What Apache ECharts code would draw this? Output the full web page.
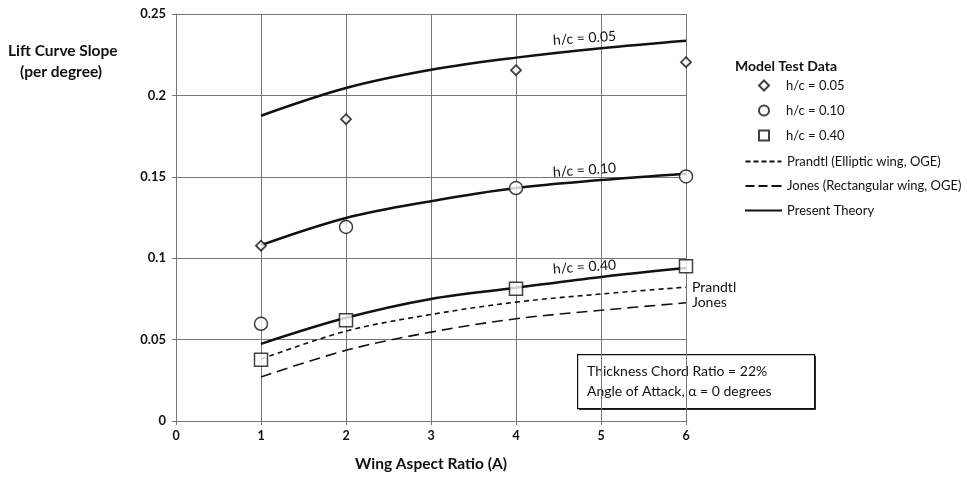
<!DOCTYPE html>
<html><head><meta charset="utf-8">
<script src="https://cdn.jsdelivr.net/npm/echarts@6/dist/echarts.min.js"></script>
<style>html,body{margin:0;padding:0;background:#fff}#c{width:967px;height:477px}</style>
</head><body><div id="c"></div>
<script>
const aspectRatios = [1, 2, 3, 4, 5, 6];
const theory005 = [0.1875, 0.2045, 0.2157, 0.2232, 0.2290, 0.2336];
const theory010 = [0.108, 0.1247, 0.1350, 0.1431, 0.1480, 0.1519];
const theory040 = [0.0474, 0.0634, 0.0750, 0.0818, 0.0885, 0.0940];
const prandtl = [0.038, 0.0552, 0.0654, 0.0730, 0.0780, 0.0822];
const jones = [0.027, 0.0434, 0.0546, 0.0628, 0.0680, 0.0726];
const testX = [1, 2, 4, 6];
const test005 = [0.1077, 0.1854, 0.2155, 0.2204];
const test010 = [0.0597, 0.1192, 0.1431, 0.1502];
const test040 = [0.0376, 0.0619, 0.0812, 0.0951];
const xTicks = [0, 1, 2, 3, 4, 5, 6];
const yTicks = [0, 0.05, 0.1, 0.15, 0.2, 0.25];

const FONT = 'Lato';
const pair = (xs, ys) => xs.map((x, i) => [x, ys[i]]);

function withCurveLabel(arr, text, idx) {
  return arr.map((p, i) => i === idx ? {
    value: p,
    label: { show: true, formatter: text, position: 'top', distance: 4, rotate: 4,
      fontFamily: FONT, fontSize: 14, color: '#111', offset: [-16, 0] }
  } : p);
}

const chart = echarts.init(document.getElementById('c'), null, { renderer: 'canvas' });
const lineStyleSolid = { color: '#111', width: 2.5 };
const theoryBase = { name: 'Present Theory', type: 'line', smooth: 0.35, symbol: 'circle', symbolSize: 0,
  showSymbol: true, lineStyle: lineStyleSolid, itemStyle: { color: '#111' }, label: { show: false }, z: 3 };
const dashIcon4 = 'path://M0,0h5v2h-5z M8,0h5v2h-5z M16,0h5v2h-5z M24,0h5v2h-5z M32,0h4v2h-4z';
const dashIcon3 = 'path://M0,0h9v2h-9z M13,0h9v2h-9z M26,0h10v2h-10z';
const option = {
  animation: false,
  backgroundColor: '#fff',
  textStyle: { fontFamily: FONT },
  grid: { left: 176, top: 14, right: 281, bottom: 55, containLabel: false },
  xAxis: {
    type: 'value', min: 0, max: 6, interval: 1,
    name: 'Wing Aspect Ratio (A)', nameLocation: 'middle', nameGap: 35,
    nameTextStyle: { fontFamily: FONT, fontWeight: 'bold', fontSize: 15.5, color: '#111' },
    axisLine: { show: true, lineStyle: { color: '#777', width: 1 } },
    axisTick: { show: true, length: 4, lineStyle: { color: '#777' } },
    axisLabel: { fontFamily: FONT, fontWeight: 'bold', fontSize: 12.5, color: '#111', margin: 8,
      formatter: v => xTicks.includes(v) ? String(v) : '' },
    splitLine: { show: true, lineStyle: { color: '#777', width: 1 } }
  },
  yAxis: {
    type: 'value', min: 0, max: 0.25, interval: 0.05,
    axisLine: { show: true, lineStyle: { color: '#777', width: 1 } },
    axisTick: { show: true, length: 4, lineStyle: { color: '#777' } },
    axisLabel: { fontFamily: FONT, fontWeight: 'bold', fontSize: 13, color: '#111', margin: 10,
      formatter: v => { const t = yTicks.find(y => Math.abs(y - v) < 1e-9); return t === undefined ? '' : String(t); } },
    splitLine: { show: true, lineStyle: { color: '#777', width: 1 } }
  },
  legend: [
    {
      orient: 'vertical', left: 753, top: 74, itemGap: 12, itemWidth: 10, itemHeight: 10,
      textStyle: { fontFamily: FONT, fontSize: 13, color: '#111', padding: [0, 0, 0, 12] },
      data: [
        { name: 'h/c = 0.05', icon: 'diamond' },
        { name: 'h/c = 0.10', icon: 'circle' },
        { name: 'h/c = 0.40', icon: 'rect' }
      ]
    },
    {
      orient: 'vertical', left: 740, top: 150, itemGap: 11.5, itemWidth: 37, itemHeight: 2,
      textStyle: { fontFamily: FONT, fontSize: 13, color: '#111', padding: [0, 0, 0, 0] },
      data: [
        { name: 'Prandtl (Elliptic wing, OGE)', icon: dashIcon4 },
        { name: 'Jones (Rectangular wing, OGE)', icon: dashIcon3 },
        { name: 'Present Theory', icon: 'rect' }
      ]
    }
  ],
  graphic: [
    { type: 'text', left: 8, top: 43, style: { text: 'Lift Curve Slope', font: 'bold 15.5px Lato', fill: '#111' } },
    { type: 'text', left: 20, top: 64, style: { text: '(per degree)', font: 'bold 15.5px Lato', fill: '#111' } },
    { type: 'text', left: 735, top: 59, style: { text: 'Model Test Data', font: 'bold 14px Lato', fill: '#111' } },
    { type: 'rect', left: 579, top: 356, shape: { width: 237, height: 54 }, style: { fill: '#333' } },
    { type: 'rect', left: 577, top: 354, shape: { width: 237, height: 54 }, style: { fill: '#fff', stroke: '#111', lineWidth: 1.2 } },
    { type: 'text', left: 587, top: 361, style: { text: 'Thickness Chord Ratio = 22%\nAngle of Attack, α = 0 degrees', font: '14px Lato', lineHeight: 20, fill: '#111' } }
  ],
  series: [
    Object.assign({}, theoryBase, { data: withCurveLabel(pair(aspectRatios, theory005), 'h/c = 0.05', 4) }),
    Object.assign({}, theoryBase, { data: withCurveLabel(pair(aspectRatios, theory010), 'h/c = 0.10', 4) }),
    Object.assign({}, theoryBase, { data: withCurveLabel(pair(aspectRatios, theory040), 'h/c = 0.40', 4) }),
    { name: 'Prandtl (Elliptic wing, OGE)', type: 'line', smooth: 0.35, symbol: 'none', showSymbol: false,
      lineStyle: { color: '#111', width: 1.6, type: [5, 4] }, itemStyle: { color: '#111' },
      endLabel: { show: true, formatter: 'Prandtl', fontFamily: FONT, fontSize: 14, color: '#111', distance: 6 },
      data: pair(aspectRatios, prandtl), z: 3 },
    { name: 'Jones (Rectangular wing, OGE)', type: 'line', smooth: 0.35, symbol: 'none', showSymbol: false,
      lineStyle: { color: '#111', width: 1.6, type: [11, 6] }, itemStyle: { color: '#111' },
      endLabel: { show: true, formatter: 'Jones', fontFamily: FONT, fontSize: 14, color: '#111', distance: 6 },
      data: pair(aspectRatios, jones), z: 3 },
    { name: 'h/c = 0.05', type: 'scatter', symbol: 'diamond', symbolSize: 10,
      itemStyle: { color: '#fff', borderColor: '#111', borderWidth: 1.8 },
      data: pair(testX, test005), z: 5 },
    { name: 'h/c = 0.10', type: 'scatter', symbol: 'circle', symbolSize: 13,
      itemStyle: { color: '#fff', borderColor: '#111', borderWidth: 1.5 },
      data: pair(testX, test010), z: 5 },
    { name: 'h/c = 0.40', type: 'scatter', symbol: 'rect', symbolSize: 13,
      itemStyle: { color: '#fff', borderColor: '#111', borderWidth: 1.5 },
      data: pair(testX, test040), z: 5 }
  ]
};
chart.setOption(option);
</script></body></html>
